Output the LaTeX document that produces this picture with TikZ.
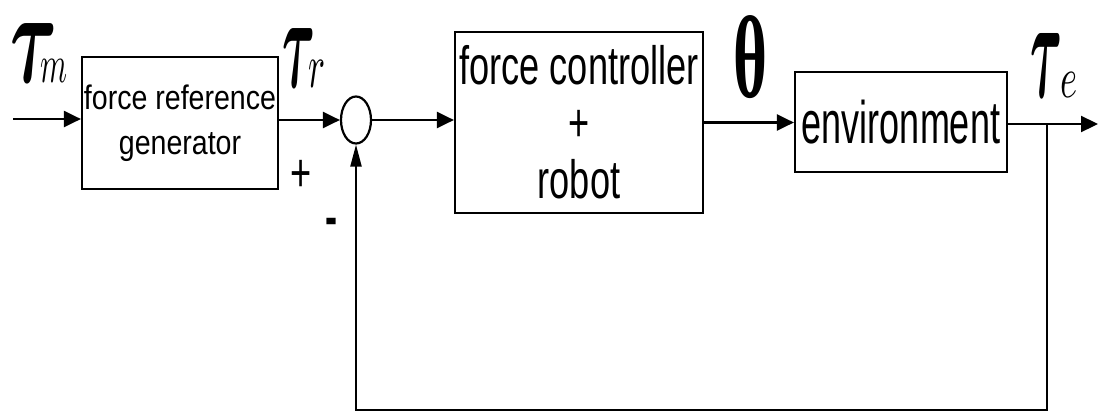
\documentclass[tikz,border=0pt]{standalone}
\usepackage{amsmath}
\usepackage{fontspec}
\setmainfont{Liberation Sans}
\newfontfamily\fa[FakeStretch=0.84]{Liberation Sans}
\newfontfamily\fb[FakeStretch=0.67]{Liberation Sans}
\newfontfamily\fc[FakeStretch=0.6]{Liberation Sans}
\newfontfamily\sergr{Liberation Serif}
\usetikzlibrary{arrows.meta,shapes.geometric}
\tikzset{
  blk/.style={draw,line width=2.2pt,inner sep=0pt,align=center},
  arr/.style={line width=2.2pt,-{Triangle[length=17pt,width=16pt]}},
  fbarr/.style={line width=2.2pt,-{Triangle[length=22pt,width=11pt]}},
  lbl/.style={inner sep=0pt,anchor=base west},
}
\begin{document}
\begin{tikzpicture}[x=1pt,y=-1pt]
\useasboundingbox (0,0) rectangle (1099,413);
% blocks
\node[blk,minimum width=196pt,minimum height=132pt,font=\fa\fontsize{34}{45}\selectfont] (b1) at (180,123) {force reference\\generator};
\node[blk,minimum width=248pt,minimum height=181pt,font=\fb\fontsize{54}{57}\selectfont] (b2) at (579,122.5) {force controller\\+\\robot};
\node[blk,minimum width=212pt,minimum height=100pt,font=\fc\fontsize{60}{60}\selectfont] (b3) at (901,122) {environment};
\node[draw,ellipse,line width=2.2pt,minimum width=30pt,minimum height=47pt,inner sep=0pt] (sum) at (356,120) {};
% signal labels
\node[lbl] (tm) at (10,82) {\resizebox{47pt}{59pt}{$\boldsymbol{\tau}$}\kern-17pt\resizebox{27pt}{23pt}{$m$}};
\node[lbl] (tr) at (282,87) {\resizebox{33pt}{59pt}{$\boldsymbol{\tau}$}\kern-7pt\resizebox{17pt}{27pt}{$r$}};
\node[lbl] (th) at (733,97) {\resizebox{34pt}{82pt}{\sergr\bfseries θ}};
\node[lbl] (te) at (1030,97) {\resizebox{32pt}{64pt}{$\boldsymbol{\tau}$}\kern-2pt\resizebox{17pt}{25pt}{$e$}};
\node[inner sep=0pt,anchor=base,font=\fb\fontsize{54}{57}\selectfont] (plus) at (301,191) {+};
\node[inner sep=0pt,anchor=base,font=\fb\bfseries\fontsize{54}{57}\selectfont] (minus) at (332,235) {-};
% connectors
\coordinate (in) at (13,119);
\coordinate (out) at (1098,124);
\coordinate (split) at (1047,124);
\coordinate (bl) at (356,410);
\draw[arr] (in) -- (in -| b1.west);
\draw[arr] (b1.east |- sum.west) -- (sum.west);
\draw[arr] (sum.east) -- (sum.east -| b2.west);
\draw[arr] (b2.east) -- (b2.east -| b3.west);
\draw[arr] (b3.east |- out) -- (out);
\draw[fbarr] (split) -- (split |- bl) -- (bl) -- (sum.south);
\end{tikzpicture}
\end{document}
